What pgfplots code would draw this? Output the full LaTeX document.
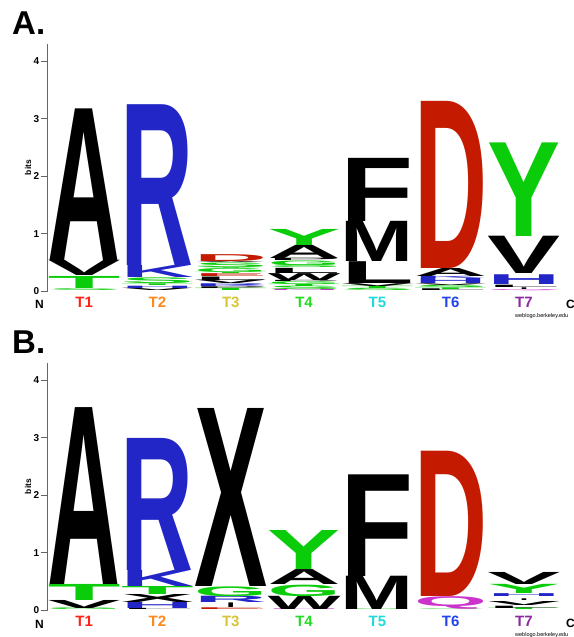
\documentclass[border=0pt]{standalone}
\usepackage{pgfplots}
\pgfplotsset{compat=1.18}
\usepackage{fontspec}
\setmainfont{Liberation Sans}
\setsansfont{Liberation Sans}
\usepackage{graphicx}

\definecolor{lgreen}{RGB}{10,204,10}
\definecolor{lblue}{RGB}{34,38,199}
\definecolor{lred}{RGB}{196,27,0}
\definecolor{lmag}{RGB}{204,51,204}
\definecolor{t1}{RGB}{255,34,20}
\definecolor{t2}{RGB}{255,136,26}
\definecolor{t3}{RGB}{212,196,58}
\definecolor{t4}{RGB}{34,221,34}
\definecolor{t5}{RGB}{34,216,216}
\definecolor{t6}{RGB}{34,68,238}
\definecolor{t7}{RGB}{139,42,158}

\newdimen\ylen \ylen=57.4pt
\newdimen\colw \colw=73pt
\newcommand{\logoletter}[4]{\textcolor{#3}{\resizebox*{#4\colw}{#2\ylen}{\bfseries #1}}}

\pgfplotsset{
  logo/.style={
    x=73.3pt, y=57.4pt, xmin=0.5, xmax=7.5, ymin=0, ymax=4.3,
    clip=false, anchor=south west,
    axis lines=left,
    every outer x axis line/.append style={-, draw=none},
    every outer y axis line/.append style={-, draw=black!60, line width=0.8pt},
    xtick={1,...,7},
    xticklabels={\textcolor{t1}{T1},\textcolor{t2}{T2},\textcolor{t3}{T3},\textcolor{t4}{T4},\textcolor{t5}{T5},\textcolor{t6}{T6},\textcolor{t7}{T7}},
    xtick style={draw=none},
    ytick={0,1,2,3,4},
    minor tick num=0,
    ytick style={draw=black!60, line width=0.8pt},
    tick align=outside, major tick length=7pt,
    /pgf/number format/assume math mode=true,
    yticklabel style={font=\bfseries\fontsize{10}{12}\selectfont, inner sep=1pt},
    xticklabel style={font=\bfseries\fontsize{15}{16}\selectfont, inner sep=0pt, yshift=1pt},
    ylabel={bits},
    ylabel style={at={(axis description cs:-0.038,0.5)}, anchor=center, font=\bfseries\fontsize{8.5}{9}\selectfont},
  },
  letters/.style={draw=none, point meta=explicit symbolic,
    visualization depends on={value \thisrow{h} \as \hgt},
    visualization depends on={value \thisrow{c} \as \lcol},
    visualization depends on={value \thisrow{w} \as \lw},
    nodes near coords={\logoletter{\pgfplotspointmeta}{\hgt}{\lcol}{\lw}},
    every node near coord/.append style={anchor=south, inner sep=0pt, outer sep=0pt},
  }
}

\begin{document}
\begin{tikzpicture}
\path[use as bounding box] (0,0) rectangle (573pt,637pt);
\clip (0,0) rectangle (573pt,637pt);

% Panel A
\begin{axis}[logo, at={(47.5pt,346pt)}]
\addplot[letters] table[x=x, y=y, meta=letter] {
x y h letter c w
1 0.010 0.030 S lgreen 1
1 0.050 0.210 T lgreen 1
1 0.265 0.265 V black 1
1 0.530 2.640 A black 1
2 0.005 0.040 V black 1
2 0.050 0.040 H lblue 1
2 0.100 0.030 T lgreen 1
2 0.130 0.100 S lgreen 1
2 0.240 0.210 K lblue 1
2 0.450 2.800 R lblue 1
3 0.001 0.040 T lgreen 1
3 0.040 0.030 P black 1
3 0.070 0.030 K lblue 1
3 0.100 0.030 R lblue 1
3 0.130 0.060 V black 1
3 0.190 0.060 L black 1
3 0.250 0.050 E lred 1
3 0.300 0.020 T lgreen 1
3 0.320 0.070 G lgreen 1
3 0.390 0.020 Y lgreen 1
3 0.410 0.080 S lgreen 1
3 0.490 0.020 A black 1
3 0.510 0.120 D lred 1
4 0.001 0.020 N lmag 1
4 0.020 0.060 S lgreen 1
4 0.080 0.040 T lgreen 1
4 0.120 0.050 G lgreen 1
4 0.170 0.020 P black 1
4 0.190 0.120 W black 1
4 0.310 0.090 L black 1
4 0.400 0.050 S lgreen 1
4 0.450 0.080 G lgreen 1
4 0.530 0.040 P black 1
4 0.570 0.230 A black 1
4 0.800 0.280 Y lgreen 1
5 0.001 0.040 S lgreen 1
5 0.040 0.040 T lgreen 1
5 0.080 0.050 V black 1
5 0.130 0.380 L black 1
5 0.510 0.700 M black 1
5 1.210 1.100 F black 1
6 0.001 0.030 L black 1
6 0.030 0.030 T lgreen 1
6 0.060 0.040 S lgreen 1
6 0.100 0.030 V black 1
6 0.130 0.090 H lblue 1
6 0.220 0.040 K lblue 1
6 0.260 0.140 A black 1
6 0.400 2.910 D lred 1
7 0.001 0.020 Q lmag 1
7 0.030 0.030 I black 0.12
7 0.060 0.040 L black 1
7 0.110 0.170 H lblue 1
7 0.300 0.650 V black 1
7 0.950 1.630 Y lgreen 1
};
\end{axis}

% Panel B
\begin{axis}[logo, at={(47.5pt,27pt)}]
\addplot[letters] table[x=x, y=y, meta=letter] {
x y h letter c w
1 0.001 0.030 G lgreen 1
1 0.030 0.140 V black 1
1 0.170 0.280 T lgreen 1
1 0.450 3.080 A black 1
2 0.001 0.020 L black 1
2 0.020 0.110 H lblue 1
2 0.130 0.140 X black 1
2 0.270 0.140 T lgreen 1
2 0.410 0.280 K lblue 1
2 0.690 2.300 R lblue 1
3 0.001 0.030 E lred 1
3 0.040 0.080 I black 0.12
3 0.130 0.110 R lblue 1
3 0.240 0.170 G lgreen 1
3 0.410 3.100 X black 1
4 0.001 0.010 N lmag 1
4 0.010 0.230 W black 1
4 0.240 0.200 G lgreen 1
4 0.440 0.260 A black 1
4 0.700 0.680 Y lgreen 1
5 0.001 0.010 S lgreen 1
5 0.010 0.580 M black 1
5 0.590 1.770 F black 1
6 0.001 0.010 S lgreen 1
6 0.010 0.220 Q lmag 1
6 0.230 2.530 D lred 1
7 0.001 0.030 T lgreen 1
7 0.030 0.040 L black 1
7 0.070 0.070 V black 1
7 0.170 0.030 I black 0.12
7 0.230 0.050 H lblue 1
7 0.280 0.160 Y lgreen 1
7 0.440 0.210 V black 1
};
\end{axis}

% Labels
\node[anchor=base west, inner sep=0pt, font=\bfseries\fontsize{33}{33}\selectfont] at (12pt,602pt) {A.};
\node[anchor=base west, inner sep=0pt, font=\bfseries\fontsize{33}{33}\selectfont] at (12pt,283pt) {B.};
\node[anchor=base, inner sep=0pt, font=\bfseries\fontsize{12}{12}\selectfont] at (39.5pt,328pt) {N};
\node[anchor=base west, inner sep=0pt, font=\bfseries\fontsize{12}{12}\selectfont] at (566pt,328.5pt) {C};
\node[anchor=base, inner sep=0pt, font=\bfseries\fontsize{12}{12}\selectfont] at (39.5pt,9pt) {N};
\node[anchor=base west, inner sep=0pt, font=\bfseries\fontsize{12}{12}\selectfont] at (566pt,9.5pt) {C};
\node[anchor=base west, inner sep=0pt, font=\fontsize{5.5}{6}\selectfont] at (515pt,319pt) {weblogo.berkeley.edu};
\node[anchor=base west, inner sep=0pt, font=\fontsize{5.5}{6}\selectfont] at (515pt,0.5pt) {weblogo.berkeley.edu};
\end{tikzpicture}
\end{document}
